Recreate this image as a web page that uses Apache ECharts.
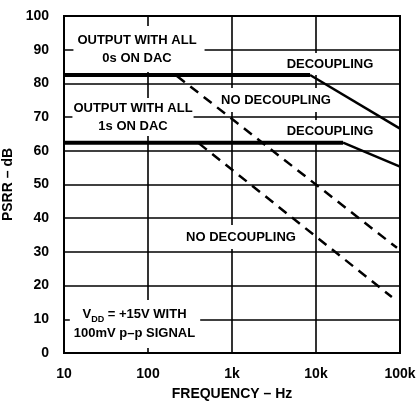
<!DOCTYPE html>
<html>
<head>
<meta charset="utf-8">
<script src="https://cdn.jsdelivr.net/npm/echarts@6/dist/echarts.min.js"></script>
<style>
html,body{margin:0;padding:0;background:#fff;}
#chart{width:416px;height:401px;}
</style>
</head>
<body>
<div id="chart"></div>
<script>
// Frequency (Hz) / PSRR (dB)
const xTicks = [10, 100, 1000, 10000, 100000];
const yTicks = [0, 10, 20, 30, 40, 50, 60, 70, 80, 90, 100];
const freqDec0 = [10, 8500, 100000];
const psrrDec0 = [82.5, 82.5, 66.6];
const freqDec1 = [10, 21000, 100000];
const psrrDec1 = [62.4, 62.4, 55.3];
const freqNoDec0 = [221, 92000];
const psrrNoDec0 = [82.2, 31.2];
const freqNoDec1 = [404, 80000];
const psrrNoDec1 = [62.2, 16.6];

const FONT = "'Liberation Sans', Arial, Helvetica, sans-serif";
const pairs = (xs, ys, a, b) => xs.slice(a, b).map((x, i) => [x, ys[a + i]]);
const fmtFreq = v => v >= 1000 ? (v / 1000) + 'k' : String(v);

const chart = echarts.init(document.getElementById('chart'), null, {renderer: 'canvas'});

function line(name, data, width, dashed) {
  return {
    name, type: 'line', data, symbol: 'none', z: 3,
    lineStyle: {color: '#000', width, type: dashed ? [10, 7] : 'solid', cap: 'butt'},
    animation: false
  };
}

function label(x, y, text, pad) {
  return {
    type: 'text', x, y, z: 1,
    style: {
      text, x: 0, y: 0, align: 'center', verticalAlign: 'middle',
      font: 'bold 13px ' + FONT, fill: '#000', lineHeight: 18,
      backgroundColor: '#fff', padding: pad
    }
  };
}

const option = {
  animation: false,
  backgroundColor: '#fff',
  grid: {left: 64, right: 16, top: 16, bottom: 48, containLabel: false, outerBoundsMode: 'none',
         show: true, borderColor: '#000', borderWidth: 2, z: 0},
  xAxis: {
    type: 'log', logBase: 10, min: xTicks[0], max: xTicks[xTicks.length - 1],
    z: 0,
    name: 'FREQUENCY – Hz', nameLocation: 'middle', nameGap: 34,
    nameTextStyle: {fontFamily: FONT, fontWeight: 'bold', fontSize: 14, color: '#000'},
    axisLine: {show: true, lineStyle: {color: '#000', width: 2}},
    axisTick: {show: false},
    minorTick: {show: false},
    splitLine: {show: true, lineStyle: {color: '#000', width: 1.6}},
    axisLabel: {
      formatter: v => xTicks.includes(v) ? fmtFreq(v) : '',
      fontFamily: FONT, fontWeight: 'bold', fontSize: 14, color: '#000', margin: 14,
      showMinLabel: true, showMaxLabel: true
    }
  },
  yAxis: {
    type: 'value', min: 0, max: 100, interval: 10, z: 0,
    name: 'PSRR – dB', nameLocation: 'middle', nameGap: 41,
    nameTextStyle: {fontFamily: FONT, fontWeight: 'bold', fontSize: 14, color: '#000'},
    axisLine: {show: true, lineStyle: {color: '#000', width: 2}},
    axisTick: {show: false},
    splitLine: {show: true, lineStyle: {color: '#000', width: 1.6}},
    axisLabel: {
      formatter: v => yTicks.includes(v) ? String(v) : '',
      fontFamily: FONT, fontWeight: 'bold', fontSize: 14, color: '#000', margin: 15
    }
  },
  series: [
    line('0s decoupling flat', pairs(freqDec0, psrrDec0, 0, 2), 4),
    line('0s decoupling slope', pairs(freqDec0, psrrDec0, 1, 3), 2.5),
    line('1s decoupling flat', pairs(freqDec1, psrrDec1, 0, 2), 4),
    line('1s decoupling slope', pairs(freqDec1, psrrDec1, 1, 3), 2.5),
    line('0s no decoupling', pairs(freqNoDec0, psrrNoDec0, 0, 2), 2.5, true),
    line('1s no decoupling', pairs(freqNoDec1, psrrNoDec1, 0, 2), 2.5, true)
  ],
  graphic: [
    label(139, 49, 'OUTPUT WITH ALL\n0s ON DAC', [7, 8, 3, 4]),
    label(133, 117, 'OUTPUT WITH ALL\n1s ON DAC', [1, 1, 1, 1]),
    label(330, 64, 'DECOUPLING', [2, 3, 2, 3]),
    label(276, 100, 'NO DECOUPLING', [3, 3, 3, 3]),
    label(330, 131, 'DECOUPLING', [2, 3, 2, 3]),
    label(241, 237, 'NO DECOUPLING', [3, 3, 3, 3]),
    {
      type: 'text', x: 135, y: 324, z: 1,
      style: {
        text: '{a|V}{s|DD}{a| = +15V WITH}\n{a|100mV p–p SIGNAL}',
        x: 0, y: 0, align: 'center', verticalAlign: 'middle',
        backgroundColor: '#fff', padding: [5, 5, 5, 4],
        rich: {
          a: {font: 'bold 13px ' + FONT, fill: '#000', lineHeight: 19, verticalAlign: 'middle'},
          s: {font: 'bold 9px ' + FONT, fill: '#000', lineHeight: 19, verticalAlign: 'bottom'}
        }
      }
    }
  ]
};
chart.setOption(option);
</script>
</body>
</html>
